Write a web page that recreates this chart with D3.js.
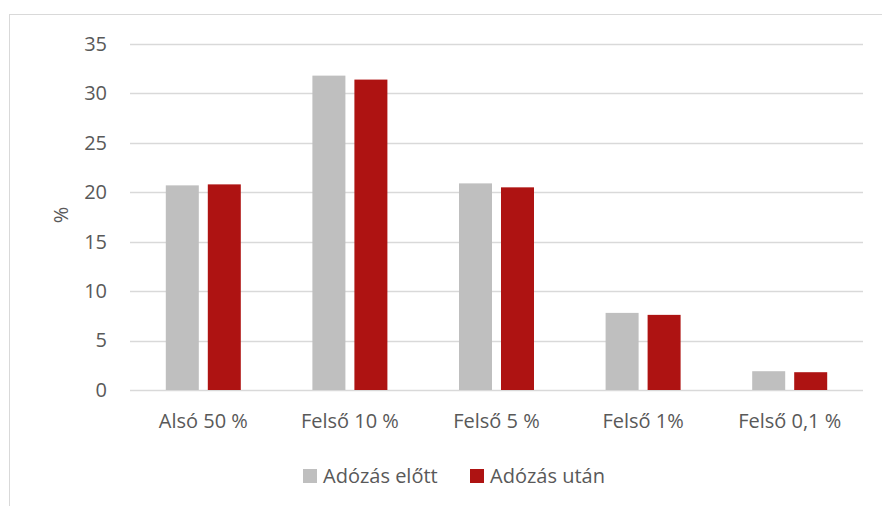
<!DOCTYPE html>
<html>
<head>
<meta charset="utf-8">
<style>
  body { margin: 0; background: #fff; }
  svg text { font-family: "Open Sans", sans-serif; fill: #595959; }
</style>
</head>
<body>
<svg width="882" height="506"></svg>
<script src="https://d3js.org/d3.v7.min.js"></script>
<script>

// Data
var categories = ["Alsó 50 %", "Felső 10 %", "Felső 5 %", "Felső 1%", "Felső 0,1 %"];
var seriesNames = ["Adózás előtt", "Adózás után"];
var beforeTax = [20.7, 31.8, 20.9, 7.8, 1.9];
var afterTax = [20.8, 31.4, 20.5, 7.6, 1.8];
var yTicks = [0, 5, 10, 15, 20, 25, 30, 35];
var colors = ["#bfbfbf", "#ae1312"];

var svg = d3.select("svg"),
    margin = {top: 44, right: 19, bottom: 116, left: 130},
    width = +svg.attr("width") - margin.left - margin.right,
    height = +svg.attr("height") - margin.top - margin.bottom;

// outer frame
svg.append("rect")
    .attr("x", 9.5).attr("y", 14.5)
    .attr("width", 900).attr("height", 600)
    .attr("fill", "none")
    .attr("stroke", "#d9d9d9");

var g = svg.append("g").attr("transform", "translate(" + margin.left + "," + margin.top + ")");

var x = d3.scaleBand()
    .domain(categories)
    .range([0, width]);

var y = d3.scaleLinear()
    .domain([0, 35])
    .range([height, 0]);

// gridlines
g.append("g")
  .selectAll("line")
  .data(yTicks)
  .join("line")
    .attr("x1", 0).attr("x2", width)
    .attr("y1", function(d) { return Math.round(y(d)) + 0.5; })
    .attr("y2", function(d) { return Math.round(y(d)) + 0.5; })
    .attr("stroke", "#d9d9d9")
    .attr("stroke-width", 1.3);

// y axis labels
var yAxis = g.append("g")
    .call(d3.axisLeft(y).tickValues(yTicks).tickSize(0).tickPadding(23));
yAxis.select(".domain").remove();
yAxis.selectAll("text")
    .style("font-size", "20px")
    .attr("fill", "#595959");

// x axis labels
var xAxis = g.append("g")
    .attr("transform", "translate(0," + height + ")")
    .call(d3.axisBottom(x).tickSize(0).tickPadding(24));
xAxis.select(".domain").remove();
xAxis.selectAll("text")
    .style("font-size", "20px")
    .attr("fill", "#595959");

// y title
g.append("text")
    .attr("transform", "translate(-62," + y(17.7) + ") rotate(-90)")
    .attr("text-anchor", "middle")
    .style("font-size", "20px")
    .text("%");

// bars
var barW = 33, gap = 9;
var series = [beforeTax, afterTax];
series.forEach(function(vals, si) {
  g.append("g")
    .selectAll("rect")
    .data(vals)
    .join("rect")
      .attr("x", function(d, i) {
        var c = x(categories[i]) + x.bandwidth() / 2;
        return si === 0 ? c - gap / 2 - barW : c + gap / 2;
      })
      .attr("y", function(d) { return y(d); })
      .attr("width", barW)
      .attr("height", function(d) { return y(0) - y(d); })
      .attr("fill", colors[si]);
});

// legend
var legend = svg.append("g").attr("transform", "translate(303,469)");
var legendX = [0, 167];
seriesNames.forEach(function(name, i) {
  var item = legend.append("g").attr("transform", "translate(" + legendX[i] + ",0)");
  item.append("rect")
    .attr("width", 14).attr("height", 14)
    .attr("fill", colors[i]);
  item.append("text")
    .attr("x", 20).attr("y", 14)
    .style("font-size", "20px")
    .text(name);
});

</script>
</body>
</html>
